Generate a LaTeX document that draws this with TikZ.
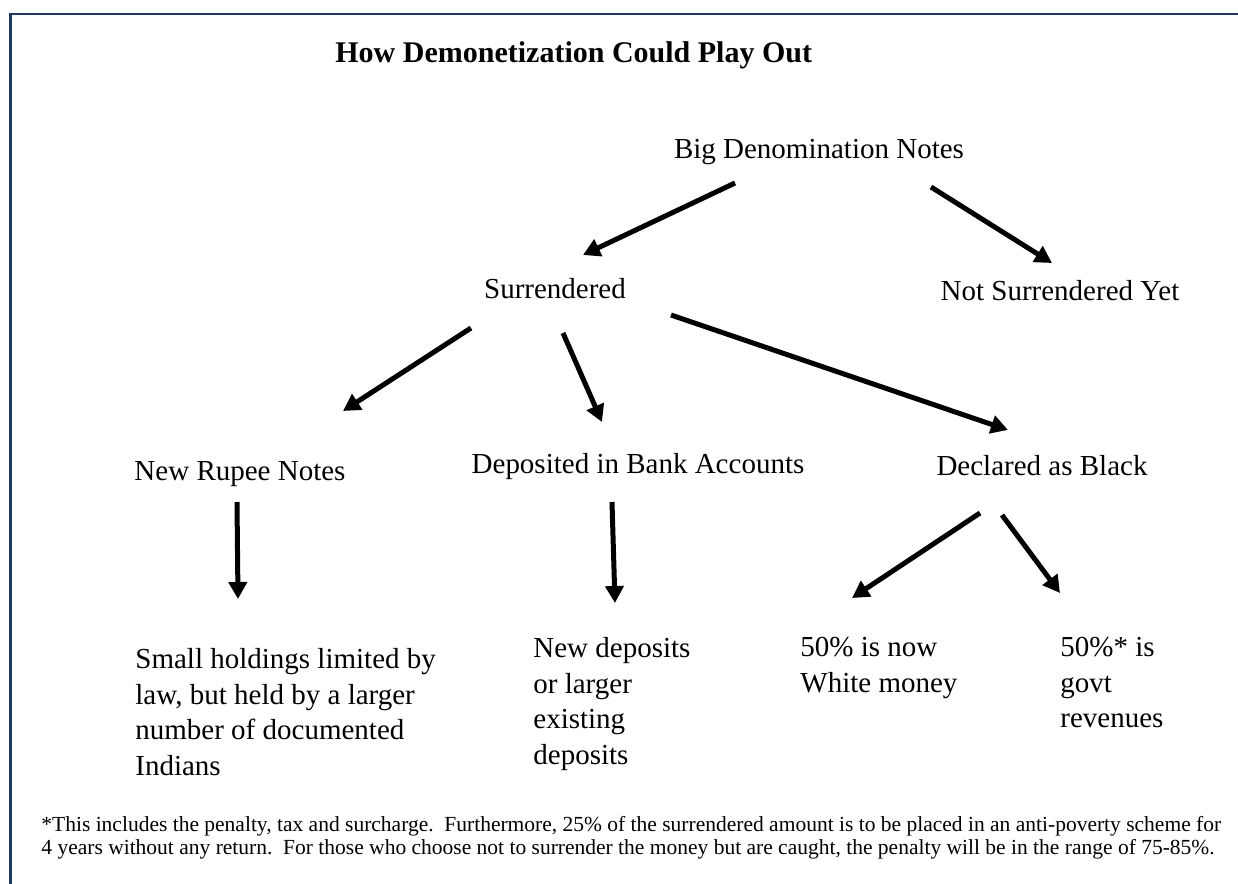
\documentclass[tikz,border=0pt]{standalone}
\usepackage{fontspec}
\setmainfont{Liberation Serif}
\usetikzlibrary{arrows.meta}
\definecolor{framenavy}{HTML}{1F3864}

\begin{document}
\begin{tikzpicture}[x=0.5pt, y=-0.5pt,
		lbl/.style={inner sep=0pt, anchor=base, font=\fontsize{14.5}{17.75}\selectfont},
		blk/.style={inner sep=0pt, anchor=north west, align=left, font=\fontsize{14.5}{17.75}\selectfont},
		arr/.style={line width=2.5pt, -{Triangle[length=8.5pt, width=9pt]}}]
		\useasboundingbox (0,0) rectangle (1238,884);
		\draw[framenavy, line width=1.35pt] (1238,14) -- (10.5,14) -- (10.5,884);
		\node[inner sep=0pt, anchor=base west, font=\fontsize{15}{18}\selectfont\bfseries] (title) at (335,62){How Demonetization Could Play Out};
		\node[lbl] (big) at (819,158){Big Denomination Notes};
		\node[lbl] (surr) at (555,298){Surrendered};
		\node[lbl] (notyet) at (1060,300){Not Surrendered Yet};
		\node[lbl] (rupee) at (240,480){New Rupee Notes};
		\node[lbl] (bank) at (638,473){Deposited in Bank Accounts};
		\node[lbl] (black) at (1042,475){Declared as Black};
		\node[blk] (small) at (135,648){Small holdings limited by\\law, but held by a larger\\number of documented\\Indians};
		\node[blk] (newdep) at (533,637){New deposits\\or larger\\existing\\deposits};
		\node[blk] (white) at (800,637){50\% is now\\White money};
		\node[blk] (govt) at (1060,637){50\%* is\\govt\\revenues};
		\node[inner sep=0pt, anchor=north west, align=left, font=\fontsize{10.75}{11.6}\selectfont] (note) at (41,816){*This includes the penalty, tax and surcharge.\ \ Furthermore, 25\% of the surrendered amount is to be placed in an anti-poverty scheme for\\4 years without any return.\ \ For those who choose not to surrender the money but are caught, the penalty will be in the range of 75-85\%.};
		\draw[arr] ([shift={(-84,25)}]big.base) -- ([shift={(28,-43)}]surr.base);
		\draw[arr] ([shift={(112,29)}]big.base) -- ([shift={(-8,-37)}]notyet.base);
		\draw[arr] ([shift={(-84,30)}]surr.base) -- ([shift={(103,-69)}]rupee.base);
		\draw[arr] ([shift={(8,35)}]surr.base) -- ([shift={(-36,-51)}]bank.base);
		\draw[arr] ([shift={(116,17)}]surr.base) -- ([shift={(-34,-45)}]black.base);
		\draw[arr] ([shift={(-3,22)}]rupee.base) -- ([shift={(103,-49)}]small.north west);
		\draw[arr] ([shift={(-26,29)}]bank.base) -- ([shift={(82,-34)}]newdep.north west);
		\draw[arr] ([shift={(-62,38)}]black.base) -- ([shift={(52,-39)}]white.north west);
		\draw[arr] ([shift={(-40,40)}]black.base) -- ([shift={(0,-44)}]govt.north west);
\end{tikzpicture}
\end{document}
